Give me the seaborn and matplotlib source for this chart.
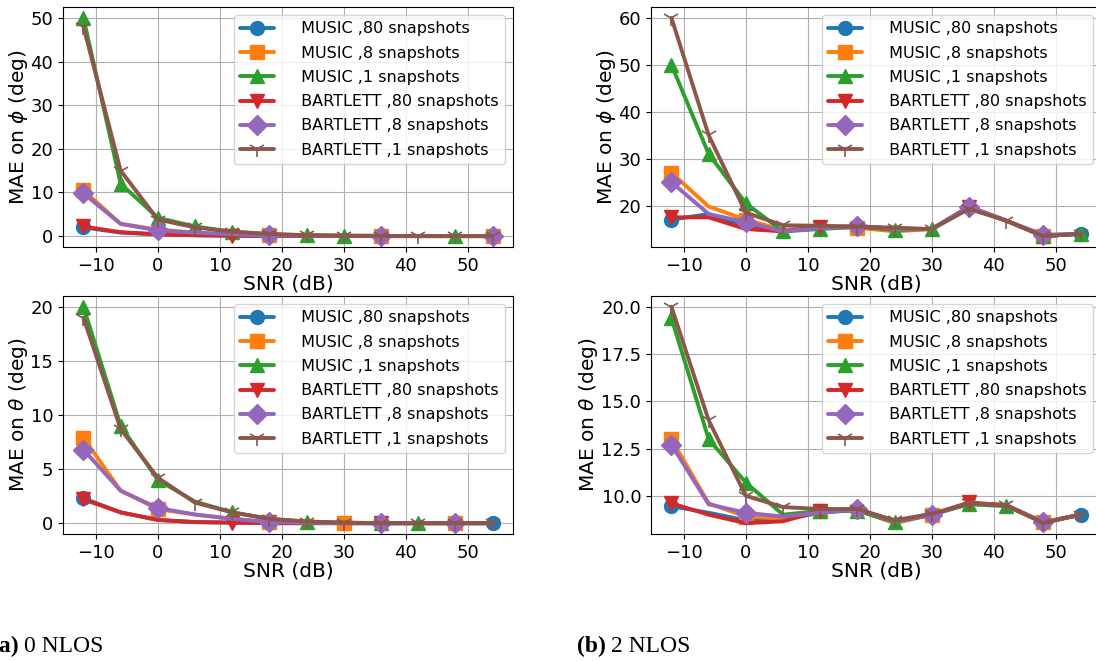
import numpy as np
import pandas as pd
import matplotlib
matplotlib.use("Agg")
import matplotlib.pyplot as plt
import seaborn as sns

# ---------------- data ----------------
snr = [-12, -6, 0, 6, 12, 18, 24, 30, 36, 42, 48, 54]
labels = [" MUSIC ,80 snapshots", " MUSIC ,8 snapshots", " MUSIC ,1 snapshots",
          " BARTLETT ,80 snapshots", " BARTLETT ,8 snapshots", " BARTLETT ,1 snapshots"]

# (a) 0 NLOS, phi
a_phi_music80 = [2.0, 0.8, 0.4, 0.2, 0.1, 0.05, 0.0, 0.0, 0.0, 0.0, 0.0, 0.0]
a_phi_music8 = [10.5, 2.8, 1.5, 0.8, 0.4, 0.2, 0.1, 0.05, 0.0, 0.0, 0.0, 0.0]
a_phi_music1 = [50.0, 12.0, 4.2, 2.2, 1.0, 0.4, 0.2, 0.1, 0.05, 0.0, 0.0, 0.0]
a_phi_bart80 = [2.2, 0.9, 0.4, 0.2, 0.1, 0.05, 0.0, 0.0, 0.0, 0.0, 0.0, 0.0]
a_phi_bart8 = [9.8, 2.8, 1.3, 0.8, 0.4, 0.2, 0.1, 0.05, 0.0, 0.0, 0.0, 0.0]
a_phi_bart1 = [48.0, 15.0, 3.8, 2.0, 1.0, 0.5, 0.2, 0.1, 0.05, 0.0, 0.0, 0.0]

# (b) 2 NLOS, phi
b_phi_music80 = [17.0, 18.2, 15.5, 14.8, 15.3, 15.5, 15.0, 15.0, 19.5, 16.8, 13.5, 14.0]
b_phi_music8 = [27.0, 19.8, 17.0, 14.8, 15.3, 15.3, 14.5, 15.0, 19.5, 16.8, 13.5, 14.0]
b_phi_music1 = [50.0, 31.0, 20.5, 14.5, 15.0, 15.5, 14.8, 15.0, 19.5, 16.8, 13.5, 14.0]
b_phi_bart80 = [17.5, 17.5, 15.0, 14.5, 15.5, 15.5, 15.0, 15.0, 19.8, 16.8, 13.5, 14.0]
b_phi_bart8 = [25.0, 18.2, 16.5, 14.5, 15.2, 15.7, 15.0, 15.0, 19.8, 16.8, 13.8, 14.0]
b_phi_bart1 = [60.0, 35.0, 18.5, 15.8, 15.7, 15.5, 15.3, 15.0, 19.3, 16.8, 13.5, 14.0]

# (a) 0 NLOS, theta
a_th_music80 = [2.3, 1.0, 0.3, 0.1, 0.05, 0.0, 0.0, 0.0, 0.0, 0.0, 0.0, 0.0]
a_th_music8 = [7.9, 3.0, 1.3, 0.8, 0.4, 0.1, 0.05, 0.0, 0.0, 0.0, 0.0, 0.0]
a_th_music1 = [20.0, 9.0, 4.0, 2.0, 1.0, 0.4, 0.15, 0.05, 0.0, 0.0, 0.0, 0.0]
a_th_bart80 = [2.2, 1.0, 0.3, 0.1, 0.05, 0.0, 0.0, 0.0, 0.0, 0.0, 0.0, 0.0]
a_th_bart8 = [6.8, 3.0, 1.4, 0.8, 0.4, 0.1, 0.05, 0.0, 0.0, 0.0, 0.0, 0.0]
a_th_bart1 = [19.0, 8.7, 4.2, 1.9, 1.0, 0.4, 0.15, 0.05, 0.0, 0.0, 0.0, 0.0]

# (b) 2 NLOS, theta
b_th_music80 = [9.45, 9.1, 8.7, 8.75, 9.1, 9.25, 8.6, 9.0, 9.6, 9.5, 8.6, 9.0]
b_th_music8 = [13.0, 9.6, 8.9, 8.8, 9.2, 9.25, 8.55, 9.0, 9.6, 9.5, 8.6, 9.0]
b_th_music1 = [19.4, 13.0, 10.7, 9.0, 9.2, 9.2, 8.6, 9.0, 9.55, 9.45, 8.6, 9.0]
b_th_bart80 = [9.6, 9.0, 8.55, 8.65, 9.2, 9.3, 8.65, 9.0, 9.65, 9.5, 8.6, 9.0]
b_th_bart8 = [12.7, 9.55, 9.1, 8.9, 9.1, 9.3, 8.65, 9.0, 9.6, 9.5, 8.6, 9.0]
b_th_bart1 = [20.0, 14.0, 10.0, 9.4, 9.3, 9.3, 8.7, 9.05, 9.6, 9.5, 8.55, 9.0]

# marker positions (indices into snr) per panel/series
marks_a_phi = [[0, 8], [0, 5, 8, 11], [0, 1, 2, 3, 4, 6, 7, 10], [0, 4], [0, 2, 5, 8, 11], list(range(12))]
marks_b_phi = [[0, 11], [0, 2, 5, 10], [0, 1, 2, 3, 4, 6, 7, 10, 11], [0, 4, 8], [0, 2, 5, 8, 10], list(range(12))]
marks_a_th = [[0, 8, 11], [0, 2, 5, 7, 10], [0, 1, 2, 4, 6, 8, 9], [0, 4, 8], [0, 2, 5, 8, 10], list(range(12))]
marks_b_th = [[0, 11], [0, 2, 4, 7, 10], [0, 1, 2, 4, 5, 6, 8, 9], [0, 4, 8], [0, 2, 5, 7, 10], list(range(12))]

# ---------------- style ----------------
sns.set_style("ticks", rc={"axes.edgecolor": "black", "text.color": "black",
                           "axes.labelcolor": "black", "xtick.color": "black",
                           "ytick.color": "black"})
plt.rcParams["font.family"] = ["DejaVu Sans"]

colors = sns.color_palette("tab10", 6)
markers = ["o", "s", "^", "v", "D", "1"]
msizes = [10, 10, 10, 10, 10, 12]

fig = plt.figure(figsize=(10.96, 6.61), dpi=100)
W, H = 1096.0, 661.0


def add_ax(x0, y0, x1, y1):
    return fig.add_axes([x0 / W, 1 - y1 / H, (x1 - x0) / W, (y1 - y0) / H])


panels = [
    (add_ax(63, 7, 513, 247), [a_phi_music80, a_phi_music8, a_phi_music1, a_phi_bart80, a_phi_bart8, a_phi_bart1],
     marks_a_phi, r"MAE on $\phi$ (deg)", [0, 10, 20, 30, 40, 50], None),
    (add_ax(651, 7, 1101, 247), [b_phi_music80, b_phi_music8, b_phi_music1, b_phi_bart80, b_phi_bart8, b_phi_bart1],
     marks_b_phi, r"MAE on $\phi$ (deg)", [20, 30, 40, 50, 60], None),
    (add_ax(63, 296, 513, 534), [a_th_music80, a_th_music8, a_th_music1, a_th_bart80, a_th_bart8, a_th_bart1],
     marks_a_th, r"MAE on $\theta$ (deg)", [0, 5, 10, 15, 20], None),
    (add_ax(651, 296, 1101, 534), [b_th_music80, b_th_music8, b_th_music1, b_th_bart80, b_th_bart8, b_th_bart1],
     marks_b_th, r"MAE on $\theta$ (deg)", [10.0, 12.5, 15.0, 17.5, 20.0], "%.1f"),
]

for ax, series, marks, ylabel, yticks, fmt in panels:
    for i, vals in enumerate(series):
        df = pd.DataFrame({"SNR": snr, "MAE": vals})
        sns.lineplot(data=df, x="SNR", y="MAE", ax=ax, color=colors[i], marker=markers[i],
                     markevery=marks[i], markersize=msizes[i], linewidth=2.8,
                     markeredgewidth=1.2 if markers[i] == "1" else 1.0,
                     markeredgecolor=colors[i], label=labels[i])
    ax.set_xlabel("SNR (dB)", fontsize=14.5, labelpad=0)
    ax.set_ylabel(ylabel, fontsize=14.5, labelpad=0.5)
    ax.set_yticks(yticks)
    if fmt:
        ax.set_yticklabels([fmt % v for v in yticks])
    ax.set_xticks([-10, 0, 10, 20, 30, 40, 50])
    ax.tick_params(labelsize=13)
    ax.grid(True, color="#b0b0b0", linewidth=0.8)
    ax.margins(x=0.05)
    ax.legend(loc="upper right", fontsize=11.5, handlelength=2.1, handletextpad=1.4,
              labelspacing=0.58, borderaxespad=0.5, framealpha=0.8)

cap_y = 1 - 646 / H
renderer = fig.canvas.get_renderer()
for x0, tag, txt in [(-9, "(a)", "0 NLOS"), (577, "(b)", "2 NLOS")]:
    t1 = fig.text(x0 / W, cap_y, tag, fontsize=17, fontweight="bold",
                  family="Liberation Serif", va="center")
    bb = t1.get_window_extent(renderer=renderer)
    fig.text((bb.x1 + 5) / W, cap_y, txt, fontsize=17, family="Liberation Serif", va="center")

fig.savefig("out.png", dpi=100)
